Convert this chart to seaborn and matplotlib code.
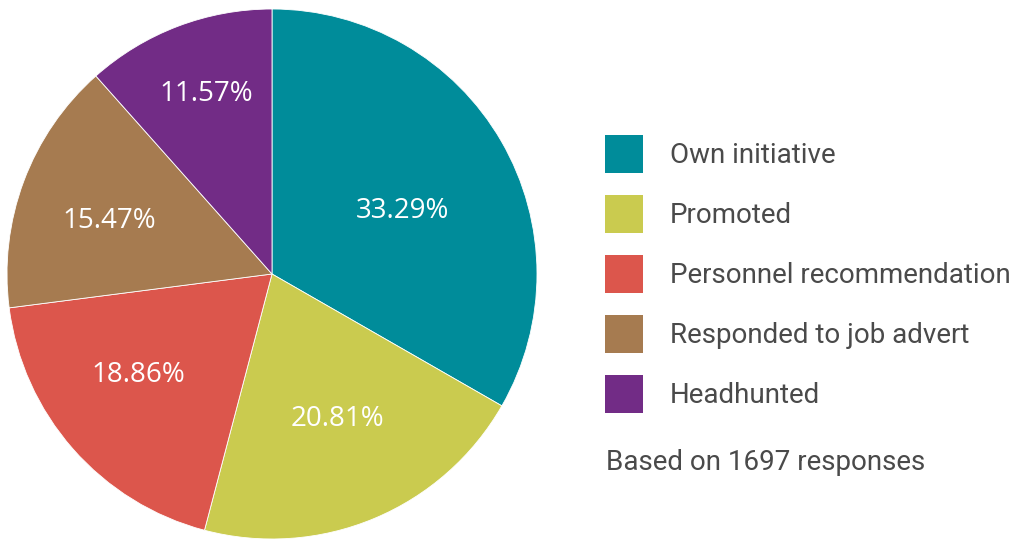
import matplotlib
matplotlib.use("Agg")
import numpy as np
import matplotlib.pyplot as plt
from matplotlib.patches import Patch
import seaborn as sns

categories = ["Own initiative", "Promoted", "Personnel recommendation",
              "Responded to job advert", "Headhunted"]
shares = [33.29, 20.81, 18.86, 15.47, 11.57]
colors = ["#008C9A", "#CACB4F", "#DC564C", "#A67B50", "#722C86"]
# label placement style: radial distance (fraction of radius) and angular nudge (deg)
label_dist = [0.547, 0.601, 0.633, 0.645, 0.723]
label_nudge = [-4.3, 1.4, -4.1, 2.4, -0.7]
note = "Based on 1697 responses"

sns.set_theme(style="white")
plt.rcParams["font.family"] = ["Open Sans", "DejaVu Sans"]

fig = plt.figure(figsize=(10.13, 5.40), dpi=100)
W, H = 1013, 540
cx, cy, r = 272, 274, 265
ax = fig.add_axes([(cx - r) / W, (H - cy - r) / H, 2 * r / W, 2 * r / H])

wedges, texts, autotexts = ax.pie(
    shares, colors=colors, startangle=90, counterclock=False,
    autopct=lambda p: f"{p:.2f}%", pctdistance=0.6, radius=1,
    wedgeprops=dict(edgecolor="white", linewidth=0.6),
    textprops=dict(color="white", fontsize=20, family="Open Sans"))
for w, t, d, n in zip(wedges, autotexts, label_dist, label_nudge):
    ang = np.deg2rad((w.theta1 + w.theta2) / 2 + n)
    t.set_position((d * np.cos(ang), d * np.sin(ang)))
ax.set_xlim(-1, 1)
ax.set_ylim(-1, 1)
ax.set_aspect("equal")
ax.axis("off")

handles = [Patch(facecolor=c, edgecolor="none") for c in colors]
fs = 20
leg = fig.legend(handles, categories, loc="upper left",
                 bbox_to_anchor=(605 / W, 1 - 135 / H),
                 frameon=False, fontsize=fs,
                 handlelength=1.37, handleheight=1.726,
                 handletextpad=0.97, labelspacing=0.79, borderpad=0,
                 borderaxespad=0)
for t in leg.get_texts():
    t.set_color("#4a4a4a")
    t.set_family(["Roboto", "DejaVu Sans"])

fig.text(606 / W, 1 - 462 / H, note, fontsize=fs, color="#4a4a4a",
         family=["Roboto", "DejaVu Sans"], va="center", ha="left")

fig.savefig("out.png", dpi=100)
